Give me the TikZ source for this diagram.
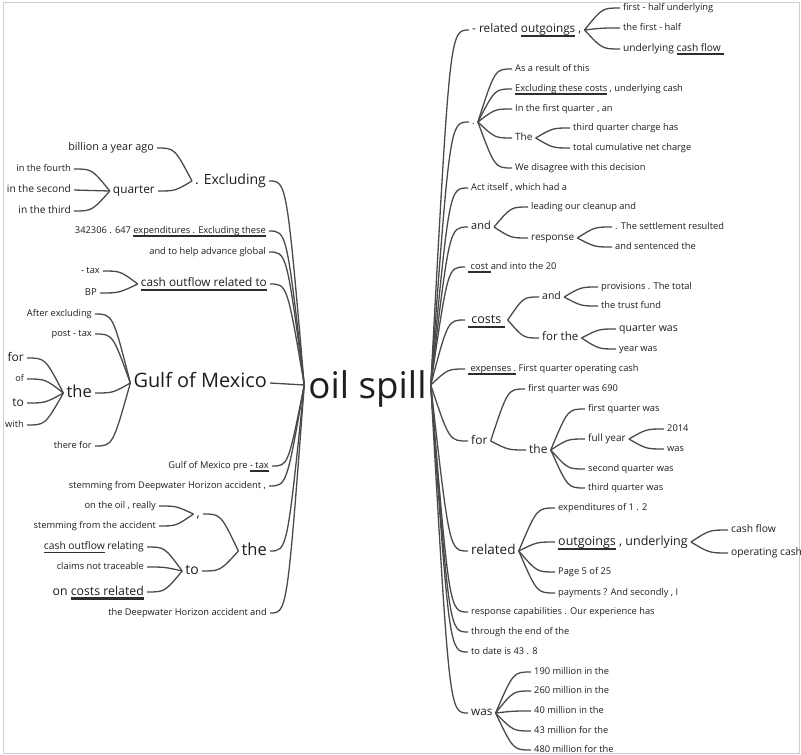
\documentclass[tikz,border=0pt]{standalone}
\usepackage{fontspec}
\setmainfont{Open Sans}
\usetikzlibrary{calc}
\definecolor{tx}{HTML}{1E1E1E}
\definecolor{ln}{HTML}{4A4A4A}
\definecolor{ulc}{HTML}{2E2E2E}
\definecolor{bordc}{HTML}{CFCFCF}
\newcommand\ul[1]{\setbox0=\hbox{#1}\rlap{\color{ulc}\rule[-0.36em]{\wd0}{0.17em}}\box0\relax}
\newcommand\lk[2]{\draw[link] let \p1=(#1), \p2=(#2) in (\p1) .. controls ({(\x1+\x2)/2},\y2) .. (\p2);}
\begin{document}
\begin{tikzpicture}[x=1pt,y=-1pt,
  every node/.style={text=tx, inner xsep=3pt, inner ysep=0pt},
  fs/.style={font={\fontsize{#1}{#1}\selectfont\rule{0pt}{0.9em}\rule[-0.4em]{0pt}{0.4em}}},
  lw/.style={anchor=east},
  rw/.style={anchor=west},
  link/.style={draw=ln, line width=1.3pt}]
\useasboundingbox (0,0) rectangle (801,755);
\fill[white] (0,0) rectangle (801,755);
\draw[draw=bordc, line width=1.5pt] (3.5,2.5) rectangle (799.5,753.5);

% centre
\node[font={\fontsize{36.7}{36.7}\selectfont\rule{0pt}{0.95em}}, inner xsep=4pt, anchor=base] (oil) at (367.5,398) {oil spill};

% ---------- left side ----------
\node[lw,fs=10.8] (billion) at (157,148) {billion a year ago};
\node[lw,fs=9.3] (fourth) at (74,169) {in the fourth};
\node[lw,fs=10.2] (second) at (74,190) {in the second};
\node[lw,fs=10.2] (third) at (74,211) {in the third};
\node[lw,fs=11.9] (quarter) at (158,191) {quarter};
\node[lw,fs=14] (excl) at (269,181) {. Excluding};
\node[lw,fs=9.3] (expend) at (269,231) {342306 . 647 \ul{expenditures . Excluding these}};
\node[lw,fs=9.3] (advance) at (269,252) {and to help advance global};
\node[lw,fs=9.3] (mtax) at (103,271) {- tax};
\node[lw,fs=9.5] (bp) at (100,293) {BP};
\node[lw,fs=11.8] (cashout) at (270,284) {\ul{cash outflow related to}};
\node[lw,fs=9.3] (after) at (95,314) {After excluding};
\node[lw,fs=9.3] (posttax) at (95,334) {post - tax};
\node[lw,fs=12] (for0) at (27,358) {for};
\node[lw,fs=9] (of0) at (27,379) {of};
\node[lw,fs=12] (to0) at (27,403) {to};
\node[lw,fs=9.3] (with0) at (27,425) {with};
\node[lw,fs=16.5] (thea) at (95,393) {the};
\node[lw,fs=19.9] (gulf) at (270,383) {Gulf of Mexico};
\node[lw,fs=9.3] (therefor) at (95,446) {there for};
\node[lw,fs=9.3] (pretax) at (272,466) {Gulf of Mexico pre \ul{- tax}};
\node[lw,fs=9.3] (stem1) at (269,486) {stemming from Deepwater Horizon accident ,};
\node[lw,fs=9.3] (oiloil) at (159,506) {on the oil , really};
\node[lw,fs=9.3] (stem2) at (159,526) {stemming from the accident};
\node[lw,fs=13] (comma) at (203,514) {,};
\node[lw,fs=10.3] (cashrel) at (147,547) {\ul{cash outflow} relating};
\node[lw,fs=9.3] (claims) at (147,567) {claims not traceable};
\node[lw,fs=12.3] (oncosts) at (147,592) {on \ul{costs related}};
\node[lw,fs=14] (to2) at (202,571) {to};
\node[lw,fs=16.5] (theb) at (270,551) {the};
\node[lw,fs=9.3] (deep) at (270,613) {the Deepwater Horizon accident and};

% ---------- right side ----------
\node[rw,fs=11.8] (relout) at (469,30) {- related \ul{outgoings} ,};
\node[rw,fs=9.3] (fhu) at (620,8) {first - half underlying};
\node[rw,fs=9.3] (tfh) at (620,28) {the first - half};
\node[rw,fs=10.2] (ucf) at (620,49) {underlying \ul{cash flow }};
\node[rw,fs=9.3] (dot) at (469,122) {.};
\node[rw,fs=9.3] (asres) at (512,69) {As a result of this};
\node[rw,fs=9.3] (exc) at (512,89) {\ul{Excluding these costs} , underlying cash};
\node[rw,fs=9.3] (inthe) at (512,109) {In the first quarter , an};
\node[rw,fs=10] (The) at (512,138) {The};
\node[rw,fs=9.3] (tqc) at (570,128) {third quarter charge has};
\node[rw,fs=9.3] (tcn) at (570,148) {total cumulative net charge};
\node[rw,fs=9.3] (wed) at (512,168) {We disagree with this decision};
\node[rw,fs=9.3] (act) at (468,188) {Act itself , which had a};
\node[rw,fs=11] (and1) at (468,227) {and};
\node[rw,fs=9.3] (lead) at (528,207) {leading our cleanup and};
\node[rw,fs=10] (resp) at (528,238) {response};
\node[rw,fs=9.3] (settle) at (612,227) {. The settlement resulted};
\node[rw,fs=9.3] (sent) at (612,247) {and sentenced the};
\node[rw,fs=9.3] (cost) at (465,267) {\ul{ cost }and into the 20};
\node[rw,fs=12.5] (costs) at (465,320) {\ul{ costs }};
\node[rw,fs=10.5] (and2) at (539,297) {and};
\node[rw,fs=9.3] (prov) at (598,287) {provisions . The total};
\node[rw,fs=9.3] (trust) at (598,306) {the trust fund};
\node[rw,fs=11.5] (forthe) at (539,338) {for the};
\node[rw,fs=10.5] (qwas) at (616,329) {quarter was};
\node[rw,fs=9.3] (ywas) at (616,349) {year was};
\node[rw,fs=9.3] (expen) at (465,369) {\ul{ expenses .} First quarter operating cash};
\node[rw,fs=9.3] (fq690) at (525,389) {first quarter was 690};
\node[rw,fs=12] (for1) at (468,441) {for};
\node[rw,fs=12] (thec) at (526,450) {the};
\node[rw,fs=9.3] (fqw) at (585,409) {first quarter was};
\node[rw,fs=10] (fy) at (585,439) {full year};
\node[rw,fs=9.3] (y2014) at (664,429) {2014};
\node[rw,fs=9.3] (was2) at (664,449) {was};
\node[rw,fs=9.3] (sqw) at (585,469) {second quarter was};
\node[rw,fs=9.3] (tqw) at (585,488) {third quarter was};
\node[rw,fs=13.5] (related) at (468,551) {related};
\node[rw,fs=9.3] (expof) at (555,508) {expenditures of 1 . 2};
\node[rw,fs=12.5] (outund) at (555,542) {\ul{outgoings} , underlying};
\node[rw,fs=10.3] (cflow) at (728,530) {cash flow};
\node[rw,fs=10.3] (opcash) at (728,553) {operating cash};
\node[rw,fs=9.3] (page5) at (555,572) {Page 5 of 25};
\node[rw,fs=9.3] (paym) at (555,593) {payments ? And secondly , I};
\node[rw,fs=9.3] (respcap) at (468,612) {response capabilities . Our experience has};
\node[rw,fs=9.3] (through) at (468,632) {through the end of the};
\node[rw,fs=9.3] (todate) at (468,652) {to date is 43 . 8};
\node[rw,fs=11.7] (wasb) at (468,713) {was};
\node[rw,fs=9.3] (m190) at (531,672) {190 million in the};
\node[rw,fs=9.3] (m260) at (531,691) {260 million in the};
\node[rw,fs=9.3] (m40) at (531,711) {40 million in the};
\node[rw,fs=9.3] (m43) at (531,731) {43 million for the};
\node[rw,fs=9.3] (m480) at (531,750) {480 million for the};

% ---------- left links ----------
\foreach \c in {excl,expend,advance,cashout,gulf,pretax,stem1,theb,deep} {\lk{oil.west}{\c.east}}
\lk{excl.west}{billion.east}
\lk{excl.west}{quarter.east}
\foreach \c in {fourth,second,third} {\lk{quarter.west}{\c.east}}
\lk{cashout.west}{mtax.east}
\lk{cashout.west}{bp.east}
\foreach \c in {after,posttax,thea,therefor} {\lk{gulf.west}{\c.east}}
\foreach \c in {for0,of0,to0,with0} {\lk{thea.west}{\c.east}}
\lk{theb.west}{comma.east}
\lk{theb.west}{to2.east}
\lk{comma.west}{oiloil.east}
\lk{comma.west}{stem2.east}
\foreach \c in {cashrel,claims,oncosts} {\lk{to2.west}{\c.east}}

% ---------- right links ----------
\foreach \c in {relout,dot,act,and1,cost,costs,expen,for1,related,respcap,through,todate,wasb} {\lk{oil.east}{\c.west}}
\foreach \c in {fhu,tfh,ucf} {\lk{relout.east}{\c.west}}
\foreach \c in {asres,exc,inthe,The,wed} {\lk{dot.east}{\c.west}}
\lk{The.east}{tqc.west}
\lk{The.east}{tcn.west}
\lk{and1.east}{lead.west}
\lk{and1.east}{resp.west}
\lk{resp.east}{settle.west}
\lk{resp.east}{sent.west}
\lk{costs.east}{and2.west}
\lk{costs.east}{forthe.west}
\lk{and2.east}{prov.west}
\lk{and2.east}{trust.west}
\lk{forthe.east}{qwas.west}
\lk{forthe.east}{ywas.west}
\lk{for1.east}{fq690.west}
\lk{for1.east}{thec.west}
\foreach \c in {fqw,fy,sqw,tqw} {\lk{thec.east}{\c.west}}
\lk{fy.east}{y2014.west}
\lk{fy.east}{was2.west}
\foreach \c in {expof,outund,page5,paym} {\lk{related.east}{\c.west}}
\lk{outund.east}{cflow.west}
\lk{outund.east}{opcash.west}
\foreach \c in {m190,m260,m40,m43,m480} {\lk{wasb.east}{\c.west}}
\end{tikzpicture}
\end{document}
